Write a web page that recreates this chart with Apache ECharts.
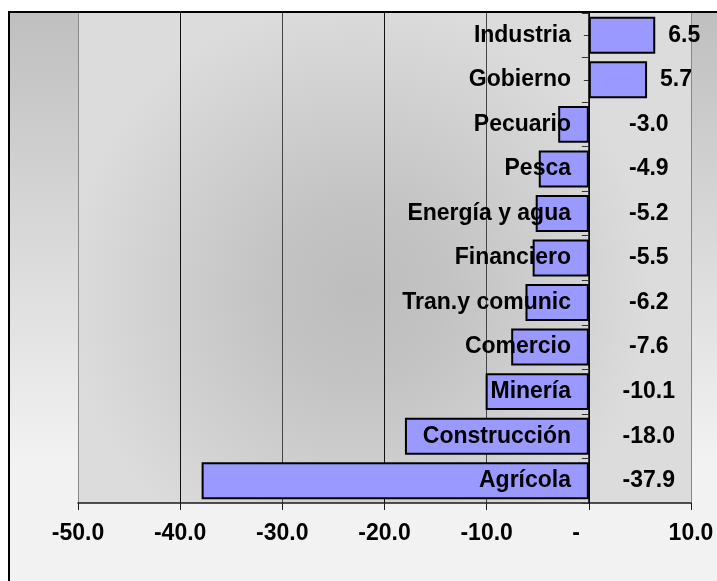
<!DOCTYPE html>
<html><head><meta charset="utf-8">
<script src="https://cdn.jsdelivr.net/npm/echarts@6/dist/echarts.min.js"></script>
<style>html,body{margin:0;padding:0;background:#fff}#c{width:717px;height:581px}</style>
</head><body><div id="c"></div>
<script>
const categories = ['Industria','Gobierno','Pecuario','Pesca','Energía y agua','Financiero','Tran.y comunic','Comercio','Minería','Construcción','Agrícola'];
const values = [6.5, 5.7, -3.0, -4.9, -5.2, -5.5, -6.2, -7.6, -10.1, -18.0, -37.9];
const xMin = -50, xMax = 10, xStep = 10;

const FONT = "'Liberation Sans', Arial, sans-serif";
const FS = 23;
const chart = echarts.init(document.getElementById('c'));

const barData = values.map(v => ({
  value: v,
  label: v >= 0
    ? { position: 'right', distance: 13, align: 'left' }
    : { position: 'right', distance: 60, align: 'center' }
}));

chart.setOption({
  animation: false,
  backgroundColor: 'transparent',
  graphic: { elements: [{
    type: 'rect', z: -100, silent: true,
    shape: { x: 9, y: 12, width: 730, height: 600 },
    style: {
      stroke: '#000', lineWidth: 2,
      fill: { type: 'linear', x: 0, y: 0, x2: 0, y2: 1, global: false,
        colorStops: [{offset: 0, color: '#bfbfbf'}, {offset: 0.75, color: '#f2f2f2'}, {offset: 1, color: '#f2f2f2'}] }
    }
  }]},
  grid: {
    left: 78, right: 26, top: 13, bottom: 78,
    show: true, borderWidth: 0, outerBoundsMode: 'none',
    backgroundColor: { type: 'radial', x: 0.46, y: 0.57, r: 0.6, global: false,
      colorStops: [{offset: 0, color: '#bdbdbd'}, {offset: 0.3, color: '#c3c3c3'}, {offset: 1, color: '#dcdcdc'}] }
  },
  xAxis: {
    type: 'value', min: xMin, max: xMax, interval: xStep, position: 'bottom',
    axisLine: { show: true, onZero: false, lineStyle: { color: '#1a1a1a', width: 1.5 } },
    axisTick: { show: true, length: 7, lineStyle: { color: '#1a1a1a', width: 1 } },
    axisLabel: {
      margin: 19, color: '#000', fontFamily: FONT, fontWeight: 'bold', fontSize: FS,
      formatter: v => v === 0 ? '-    ' : v.toFixed(1)
    },
    splitLine: { show: true, lineStyle: { width: 1, color: ['#888','#111','#444','#111','#444','#000','#888'] } }
  },
  yAxis: [{
    type: 'category', data: categories, inverse: true, position: 'left', z: 10,
    axisLine: { show: true, onZero: true, onZeroAxisIndex: 0, lineStyle: { color: '#000', width: 1.5 } },
    axisTick: { show: true, length: 7, alignWithLabel: false, lineStyle: { color: '#333', width: 1 } },
    axisLabel: { margin: -493, color: '#000', fontFamily: FONT, fontWeight: 'bold', fontSize: FS },
    splitLine: { show: false }
  }, {
    type: 'category', data: categories, inverse: true, position: 'left',
    axisLine: { show: false, onZero: true, onZeroAxisIndex: 0 },
    axisTick: { show: true, length: 5, alignWithLabel: true, lineStyle: { color: '#333', width: 1 } },
    axisLabel: { show: false },
    splitLine: { show: false }
  }],
  series: [{
    type: 'bar', data: barData, yAxisIndex: 0,
    barCategoryGap: '17%',
    itemStyle: { color: '#9999ff', borderColor: '#000', borderWidth: 2 },
    label: { show: true, color: '#000', fontFamily: FONT, fontWeight: 'bold', fontSize: FS,
      formatter: p => p.value.toFixed(1) }
  }]
});
</script></body></html>
